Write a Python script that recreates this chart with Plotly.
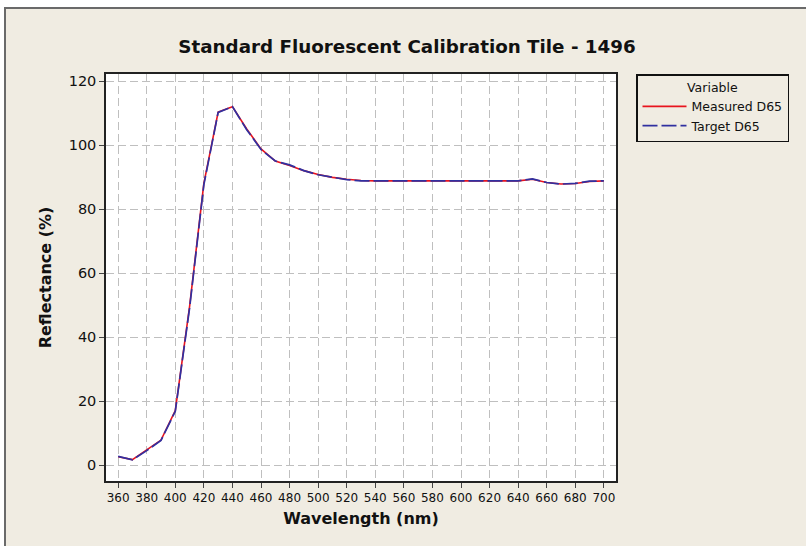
import plotly.graph_objects as go

# ---- data ----
wavelength_nm = [360, 370, 380, 390, 400, 410, 420, 430, 440, 450, 460, 470, 480,
                 490, 500, 510, 520, 530, 540, 550, 560, 570, 580, 590, 600, 610,
                 620, 630, 640, 650, 660, 670, 680, 690, 700]
measured_d65 = [2.6, 1.7, 4.7, 7.8, 17.0, 49.5, 88.0, 110.3, 112.0, 105.0, 98.8, 95.0, 93.6,
                92.0, 90.8, 89.9, 89.3, 88.9, 88.8, 88.8, 88.8, 88.8, 88.8, 88.8, 88.8, 88.8,
                88.8, 88.8, 88.8, 89.3, 88.3, 87.8, 88.0, 88.6, 88.8]
target_d65 = [2.7, 1.6, 4.5, 7.7, 16.8, 49.0, 87.6, 110.2, 112.0, 104.8, 98.6, 95.0, 93.8,
              92.0, 90.7, 89.9, 89.2, 88.8, 88.8, 88.8, 88.8, 88.8, 88.8, 88.8, 88.8, 88.8,
              88.8, 88.8, 88.8, 89.4, 88.3, 87.8, 88.0, 88.7, 88.8]
x_ticks = list(range(360, 701, 20))
y_ticks = list(range(0, 121, 20))

BEIGE = "#F0ECE2"
FONT = "DejaVu Sans"

fig = go.Figure()
fig.add_trace(go.Scatter(x=wavelength_nm, y=measured_d65, mode="lines", name="Measured D65",
                         line=dict(color="#E8141E", width=1.6)))
fig.add_trace(go.Scatter(x=wavelength_nm, y=target_d65, mode="lines", name="Target D65",
                         line=dict(color="#3030A0", width=1.7, dash="15px,4px")))

# plot area geometry in px: x 106..616, y 74..481
L, R, T, B = 106, 616, 74, 481
W, H = R - L, B - T
def px(xp):
    return (xp - L) / W
def py(yp):
    return (B - yp) / H

shapes = [
    dict(type="rect", xref="paper", yref="paper", x0=px(5), x1=px(830), y0=py(570), y1=py(8),
         fillcolor=BEIGE, line=dict(color="#6a6a6a", width=2), layer="below"),
    dict(type="rect", xref="paper", yref="paper", x0=0, x1=1, y0=0, y1=1,
         fillcolor="white", line=dict(width=0), layer="below"),
]

fig.update_layout(
    width=806, height=546,
    margin=dict(l=L, r=806 - R, t=T, b=546 - B, pad=0),
    paper_bgcolor="white", plot_bgcolor="white",
    shapes=shapes,
    font=dict(family=FONT, color="#111111"),
    title=dict(text="<b>Standard Fluorescent Calibration Tile - 1496</b>",
               x=0.505, xanchor="center", y=1 - 47 / 546, yanchor="middle",
               font=dict(size=18.3, family=FONT, color="#111111")),
    showlegend=True,
    legend=dict(x=px(636), y=1, xanchor="left", yanchor="top",
                bgcolor="rgba(0,0,0,0)", bordercolor="#111111", borderwidth=1.5,
                font=dict(size=12.5, family=FONT, color="#111111"),
                title=dict(text="Variable", side="top center",
                           font=dict(size=12.5, family=FONT, color="#111111")),
                itemwidth=44, tracegroupgap=0),
    xaxis=dict(range=[351.5, 708.5], tickmode="array", tickvals=x_ticks,
               ticktext=[str(v) for v in x_ticks],
               ticks="outside", ticklen=5, tickwidth=1, tickcolor="#444444",
               tickfont=dict(size=12, family=FONT, color="#111111"),
               showgrid=True, gridcolor="#BFBFBF", gridwidth=1.4, griddash="8px,4px",
               zeroline=False, showline=True, mirror=True, linecolor="#222222", linewidth=1.5,
               title=dict(text="<b>Wavelength (nm)</b>", standoff=9,
                          font=dict(size=16, family=FONT, color="#111111"))),
    yaxis=dict(range=[-5, 122.2], tickmode="array", tickvals=y_ticks,
               ticktext=[str(v) for v in y_ticks],
               ticks="outside", ticklen=5, tickwidth=1, tickcolor="#444444",
               tickfont=dict(size=14.5, family=FONT, color="#111111"),
               showgrid=True, gridcolor="#BFBFBF", gridwidth=1.4, griddash="8px,4px",
               zeroline=False, showline=True, mirror=True, linecolor="#222222", linewidth=1.5,
               title=dict(text="<b>Reflectance (%)</b>", standoff=13,
                          font=dict(size=16, family=FONT, color="#111111"))),
)

fig.write_html("out.html")
